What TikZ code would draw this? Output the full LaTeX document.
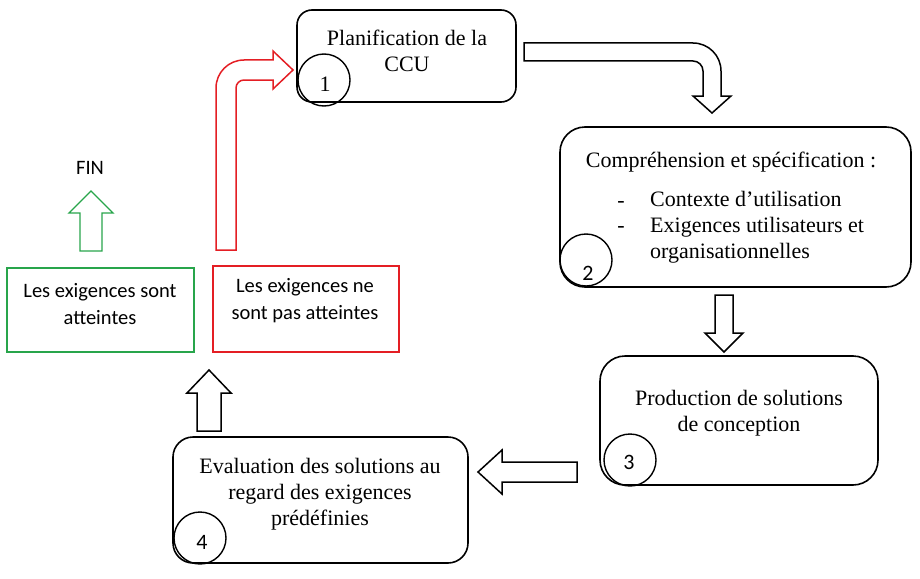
\documentclass[tikz,border=0pt]{standalone}
\usepackage{fontspec}
\setmainfont{Liberation Serif}
\setsansfont{Carlito}
\usepackage{tikz}
\usetikzlibrary{positioning,calc}
\definecolor{okgreen}{RGB}{40,165,75}
\definecolor{nokred}{RGB}{228,30,36}
\tikzset{
    %Define style for step boxes
    etape/.style={
           draw, rectangle, line width=1.6pt, inner sep=0pt},
    %Define style for step numbers
    numero/.style={
           circle, draw, line width=1.4pt, minimum size=52pt, inner sep=0pt},
    %Define style for texts
    texte/.style={
           align=center, inner sep=0pt,
           font=\fontsize{22}{26}\selectfont},
    sanstexte/.style={
           align=center, inner sep=0pt,
           font=\sffamily\fontsize{20.5}{27}\selectfont},
    chiffre/.style={
           inner sep=0pt,
           font=\sffamily\fontsize{22}{24}\selectfont},
    % Define block arrow style
    fleche/.style={
           draw, line width=1.5pt, line join=miter}
}

\begin{document}
\begin{tikzpicture}[x=1pt, y=-1pt]
	\useasboundingbox (0,0) rectangle (920,578);

	% Step boxes
	\node[etape, rounded corners=15pt, minimum width=219pt, minimum height=92pt](etape1) at (406.5,56){};
	\node[etape, rounded corners=25pt, minimum width=351pt, minimum height=160pt](etape2) at (735.5,207){};
	\node[etape, rounded corners=25pt, minimum width=278pt, minimum height=129pt](etape3) at (739,420.5){};
	\node[etape, rounded corners=20pt, minimum width=295pt, minimum height=126pt](etape4) at (320.5,500){};
	\node[etape, draw=okgreen, line width=1.3pt, minimum width=187pt, minimum height=84pt](atteintes) at (100.5,310){};
	\node[etape, draw=nokred, line width=1.3pt, minimum width=186pt, minimum height=86pt](nonatteintes) at (306,309){};

	% Step numbers
	\node[numero](c1) at (324,80){};
	\node[numero](c2) at (586,260){};
	\node[numero](c3) at (630,460){};
	\node[numero](c4) at (200,538){};
	\node[chiffre, font=\fontsize{22}{24}\selectfont](n1) at (325,84){1};
	\node[chiffre](n2) at (588,273){2};
	\node[chiffre](n3) at (629,462){3};
	\node[chiffre](n4) at (202,542){4};

	% Texts
	\node[texte](t1) at (407,50.5){Planification de la\\CCU};
	\node[texte](t2) at (731,162){Compréhension et spécification :};
	\node[texte](tiret1) at (621,204){-};
	\node[texte](tiret2) at (621,229){-};
	\node[texte, align=left, anchor=west](t2b) at (650,227.5){Contexte d’utilisation\\Exigences utilisateurs et\\organisationnelles};
	\node[texte](t3) at (739,413.5){Production de solutions\\de conception};
	\node[texte](t4) at (320,494.5){Evaluation des solutions au\\regard des exigences\\prédéfinies};
	\node[sanstexte](tok) at (100,304.5){Les exigences sont\\atteintes};
	\node[sanstexte](tnok) at (305,301){Les exigences ne\\sont pas atteintes};
	\node[sanstexte](fin) at (90,168){FIN};

	% Bent arrows
	\draw[fleche] (524,43) -- (693,43) arc[start angle=90, end angle=0, radius=28pt]
	              -- (721,96) -- (731,96) -- (712,113) -- (693,96) -- (703,96) -- (703,71)
	              arc[start angle=0, end angle=90, radius=10pt] -- (524,61) -- cycle;
	\draw[fleche, draw=nokred] (216,250) -- (216,88) arc[start angle=180, end angle=90, radius=28pt]
	              -- (273,60) -- (273,51) -- (293,70) -- (273,89) -- (273,80) -- (244,80)
	              arc[start angle=90, end angle=180, radius=8pt] -- (236,250) -- cycle;

	% Straight arrows
	\draw[fleche] (715,295) -- (733,295) -- (733,333) -- (743,333) -- (724,352)
	              -- (705,333) -- (715,333) -- cycle;
	\draw[fleche] (577,462) -- (577,482) -- (502,482) -- (502,494) -- (478,472)
	              -- (502,450) -- (502,462) -- cycle;
	\draw[fleche] (197,431) -- (221,431) -- (221,393) -- (231,393) -- (209,370)
	              -- (187,393) -- (197,393) -- cycle;
	\draw[fleche, draw=okgreen, line width=1.3pt] (80,251) -- (102,251) -- (102,213) -- (113,213) -- (91,191)
	              -- (69,213) -- (80,213) -- cycle;

\end{tikzpicture}
\end{document}
